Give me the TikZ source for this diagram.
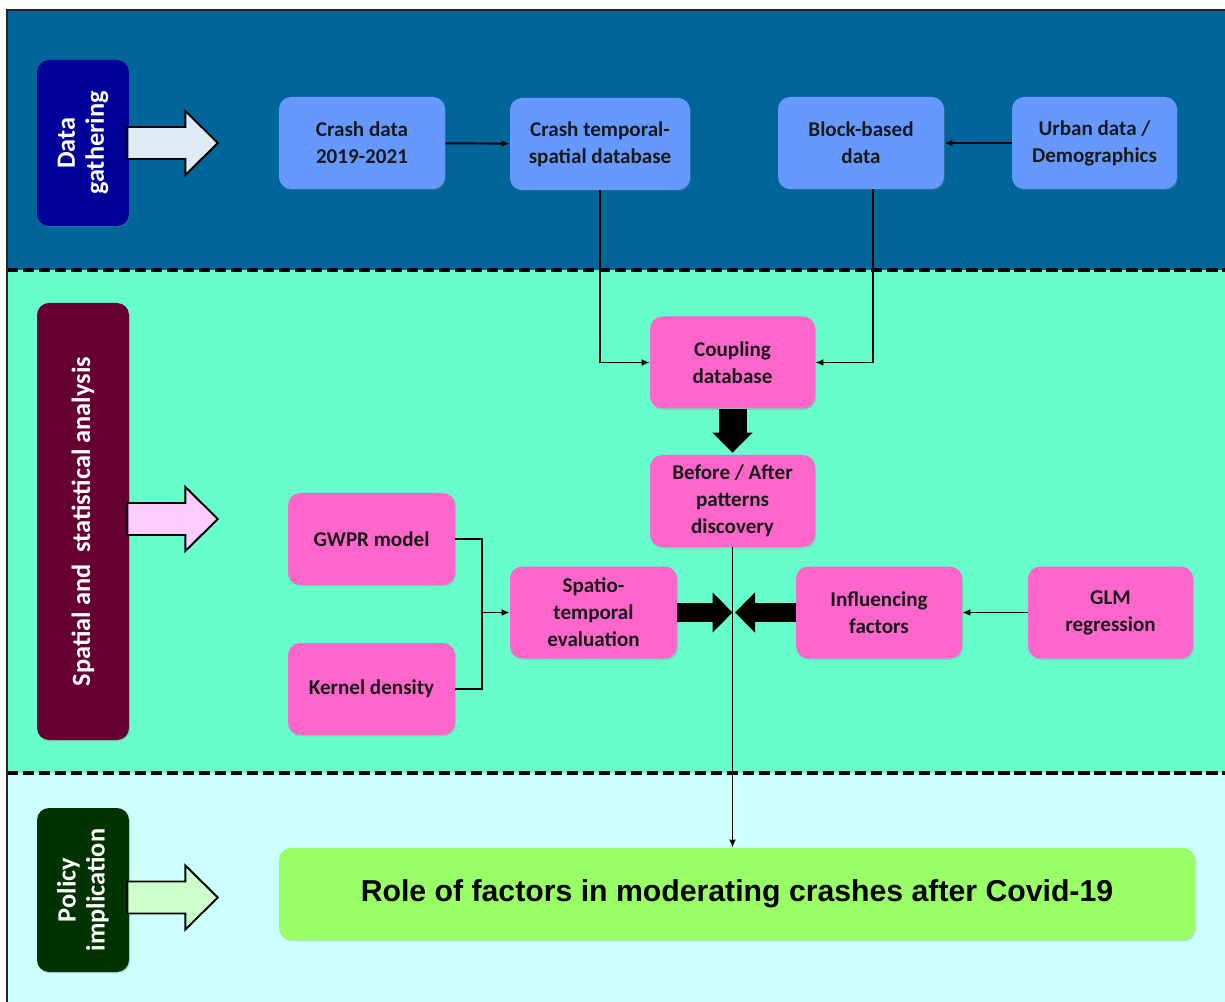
\documentclass[tikz,border=0pt]{standalone}
\usepackage{fontspec}
\setmainfont{Carlito}
\newfontfamily\rolefont{Liberation Sans}
\usetikzlibrary{arrows.meta,shadows}

\definecolor{bandtop}{HTML}{006699}
\definecolor{bandmid}{HTML}{66FFCC}
\definecolor{bandlow}{HTML}{CCFFFF}
\definecolor{gathercol}{HTML}{000099}
\definecolor{spatialcol}{HTML}{660033}
\definecolor{policycol}{HTML}{003300}
\definecolor{databox}{HTML}{6699FF}
\definecolor{analysbox}{HTML}{FF66CC}
\definecolor{rolebox}{HTML}{99FF66}
\definecolor{arrowtop}{HTML}{DEEAF6}
\definecolor{arrowmid}{HTML}{FFCCFF}
\definecolor{arrowlow}{HTML}{CCFFCC}
\definecolor{boxtext}{HTML}{1A1A1A}

\tikzset{
  pics/bandarrow/.style={code={
    \draw[line width=1.1pt,fill=#1] (-0.04,0.32) -- (1.12,0.32) -- (1.12,0.64) -- (1.77,0) -- (1.12,-0.64) -- (1.12,-0.32) -- (-0.04,-0.32) -- cycle;
  }}
}

\begin{document}
\begin{tikzpicture}[
  stepbox/.style={rounded corners=0.24cm, minimum width=3.32cm, minimum height=1.84cm, align=center, inner sep=2pt,
    text=boxtext, font=\fontsize{12}{15.4}\selectfont\bfseries,
    drop shadow={shadow xshift=0.6pt, shadow yshift=-0.8pt, opacity=0.25}},
  databox/.style={stepbox, fill=databox},
  pinkbox/.style={stepbox, fill=analysbox},
  phasebox/.style={rounded corners=0.24cm, rotate=90, minimum height=1.84cm, align=center, inner sep=2pt,
    text=white, font=\fontsize{15}{16.5}\selectfont\bfseries,
    drop shadow={shadow xshift=0.6pt, shadow yshift=-0.8pt, opacity=0.25}},
  thinarrow/.style={line width=1.1pt, -{Latex[length=4.5pt,width=3.8pt]}},
  thinline/.style={line width=1.1pt},
  fatarrow/.style={line width=#1, -{Triangle[width=0.78cm,length=0.4cm]}},
  bandline/.style={line width=2.1pt, dash pattern=on 6.5pt off 2.6pt}
]
\useasboundingbox (0,0) rectangle (24.5,-20.04);

% background bands
\fill[bandtop] (0.14,-0.2) rectangle (24.5,-5.4);
\fill[bandmid] (0.14,-5.4) rectangle (24.5,-15.46);
\fill[bandlow] (0.14,-15.46) rectangle (24.5,-20.04);
\draw[bandline] (0.14,-5.4) -- (24.5,-5.4);
\draw[bandline] (0.14,-15.46) -- (24.5,-15.46);
\draw[line width=1.1pt,black!85] (0.14,-20.04) -- (0.14,-0.2) -- (24.5,-0.2);

% phase labels
\node[phasebox, fill=gathercol, minimum width=3.32cm] (gather) at (1.66,-2.86) {Data\\gathering};
\node[phasebox, fill=spatialcol, minimum width=8.74cm] (spatial) at (1.66,-10.43) {Spatial and \ statistical analysis};
\node[phasebox, fill=policycol, minimum width=3.28cm] (policy) at (1.66,-17.8) {Policy\\implication};

\pic at (gather.south) {bandarrow=arrowtop};
\pic at ([yshift=0.05cm]spatial.south) {bandarrow=arrowmid};
\pic at ([yshift=-0.15cm]policy.south) {bandarrow=arrowlow};

% data gathering
\node[databox] (crashdata) at (7.24,-2.86) {Crash data\\2019-2021};
\node[databox, minimum width=3.6cm] (temporal) at (12.0,-2.88) {Crash temporal-\\spatial database};
\node[databox] (block) at (17.22,-2.86) {Block-based\\data};
\node[databox, minimum width=3.3cm] (urban) at (21.89,-2.86) {Urban data /\\Demographics};

\draw[thinarrow] (crashdata) -- (temporal);
\draw[thinarrow] (urban) -- (block);

% analysis
\node[pinkbox, minimum width=3.3cm] (coupling) at (14.65,-7.25) {Coupling\\database};
\node[pinkbox, minimum width=3.3cm] (beforeafter) at (14.65,-10.02) {Before / After\\patterns\\discovery};
\node[pinkbox, minimum width=3.34cm] (spatio) at (11.87,-12.25) {Spatio-\\temporal\\evaluation};
\node[pinkbox, minimum width=3.34cm] (gwpr) at (7.43,-10.78) {GWPR model};
\node[pinkbox, minimum width=3.34cm] (kernel) at (7.43,-13.78) {Kernel density};
\node[pinkbox] (influence) at (17.58,-12.25) {Influencing\\factors};
\node[pinkbox, minimum width=3.3cm] (glm) at (22.21,-12.25) {GLM\\regression};

\draw[thinarrow] (temporal.south) |- (coupling.west);
\draw[thinarrow] ([xshift=0.24cm]block.south) |- (coupling.east);
\draw[fatarrow=0.56cm] (coupling.south) -- ([yshift=0.04cm]beforeafter.north);

\coordinate (fork) at (9.64,-12.25);
\draw[thinline] (gwpr.east) -| (fork) |- (kernel.east);
\draw[thinarrow] (fork) -- (spatio.west);
\draw[thinarrow] (glm) -- (influence);

\coordinate (meet) at (beforeafter.south |- spatio.east);
\draw[fatarrow=0.38cm] (spatio.east) -- (meet);
\draw[fatarrow=0.38cm] (influence.west) -- ([xshift=0.05cm]meet);

% policy
\node[stepbox, fill=rolebox, minimum width=18.32cm, text=black, font=\rolefont\fontsize{17.2}{20}\selectfont\bfseries] (role) at (14.74,-17.88) {Role of factors in moderating crashes after Covid-19};
\draw[thinarrow] (beforeafter.south) -- (beforeafter.south |- role.north);
\end{tikzpicture}
\end{document}
